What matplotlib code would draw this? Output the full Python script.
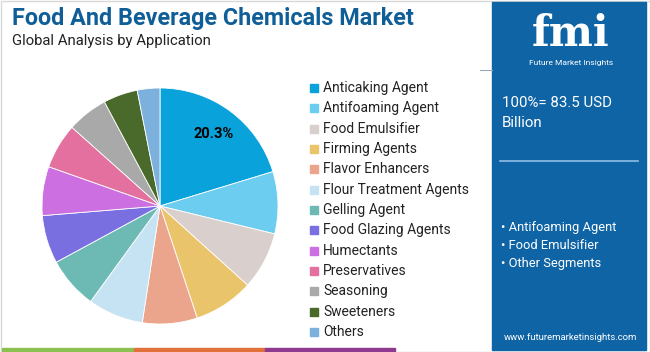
import numpy as np
import matplotlib.pyplot as plt
from matplotlib.patches import Rectangle

# data
segments = ['Anticaking Agent', 'Antifoaming Agent', 'Food Emulsifier', 'Firming Agents',
            'Flavor Enhancers', 'Flour Treatment Agents', 'Gelling Agent', 'Food Glazing Agents',
            'Humectants', 'Preservatives', 'Seasoning', 'Sweeteners', 'Others']
shares = [20.3, 8.5, 7.9, 8.2, 7.5, 7.6, 7.1, 6.6, 6.7, 6.2, 5.6, 4.7, 3.1]
colors = ['#0aa2db', '#6ccdf0', '#d9cfcc', '#e9c46a', '#eba58c', '#c6e3f3', '#6dbab5',
          '#7a6fe0', '#cc70e1', '#e4709f', '#a9a9a9', '#4a6a2c', '#7cb0dd']
total_text = '100%= 83.5 USD\nBillion'
key_segments = ['Antifoaming Agent', 'Food Emulsifier', 'Other Segments']

W, H = 650, 352
fig = plt.figure(figsize=(W / 100, H / 100), dpi=100)
plt.rcParams['font.family'] = ['Roboto', 'DejaVu Sans']

# background / frame
bg = fig.add_axes([0, 0, 1, 1])
bg.set_xlim(0, W)
bg.set_ylim(H, 0)
bg.axis('off')
bg.add_patch(Rectangle((0.5, 0.5), W - 1, H - 1, fill=False, ec='#d8d8d8', lw=1))
bg.add_patch(Rectangle((492, 2), 154, 348, color='#0f64a6'))
bg.plot([480, 492], [70, 70], color='#9aa9b8', lw=0.8)
for x0, x1, c in [(2, 134, '#8cc152'), (134, 265, '#e2703a'), (265, 395, '#8e3a8e')]:
    bg.add_patch(Rectangle((x0, 348), x1 - x0, 4, color=c))

# titles
fig.text(12 / W, 1 - 18 / H, 'Food And Beverage Chemicals Market', fontsize=16.8,
         fontweight='bold', color='#0f5e98', va='center')
fig.text(12 / W, 1 - 41 / H, 'Global Analysis by Application', fontsize=10.7,
         color='#222222', va='center')

# logo
fig.text(571 / W, 1 - 34 / H, 'fmi', fontsize=30, fontweight='bold', color='white',
         ha='center', va='center', family='DejaVu Serif')
fig.text(571 / W, 1 - 63 / H, 'Future Market Insights', fontsize=6, color='white',
         ha='center', va='center')

# pie
cx, cy, r = 160, 206, 118
ax = fig.add_axes([(cx - r) / W, (H - cy - r) / H, 2 * r / W, 2 * r / H])
wedges, _, autotexts = ax.pie(shares, colors=colors, startangle=90, counterclock=False,
                              autopct=lambda p: f'{p:.1f}%' if p > 15 else '',
                              pctdistance=0.76, wedgeprops=dict(lw=0.6, ec='white'))
for t in autotexts:
    t.set_fontsize(10.5)
    t.set_fontweight('bold')
ax.set_xlim(-1, 1)
ax.set_ylim(-1, 1)
ax.set_aspect('equal')

# legend
y0, dy = 88, 20.33
for i, (name, c) in enumerate(zip(segments, colors)):
    y = y0 + i * dy
    bg.add_patch(Rectangle((310, y - 4), 8, 8, color=c))
    bg.text(323, y, name, fontsize=10, color='#222222', va='center')

# side panel text
bg.text(502, 113, total_text, fontsize=10.8, color='white', va='center', linespacing=1.6)
bg.plot([500, 638], [161, 161], color='#8fbde6', lw=1.2)
for i, s in enumerate(key_segments):
    bg.text(501, 228 + i * 17.5, '• ' + s, fontsize=9.3, color='white', va='center')
bg.text(570, 337, 'www.futuremarketinsights.com', fontsize=6.8, color='white',
        ha='center', va='center')

fig.savefig('out.png', dpi=100)
